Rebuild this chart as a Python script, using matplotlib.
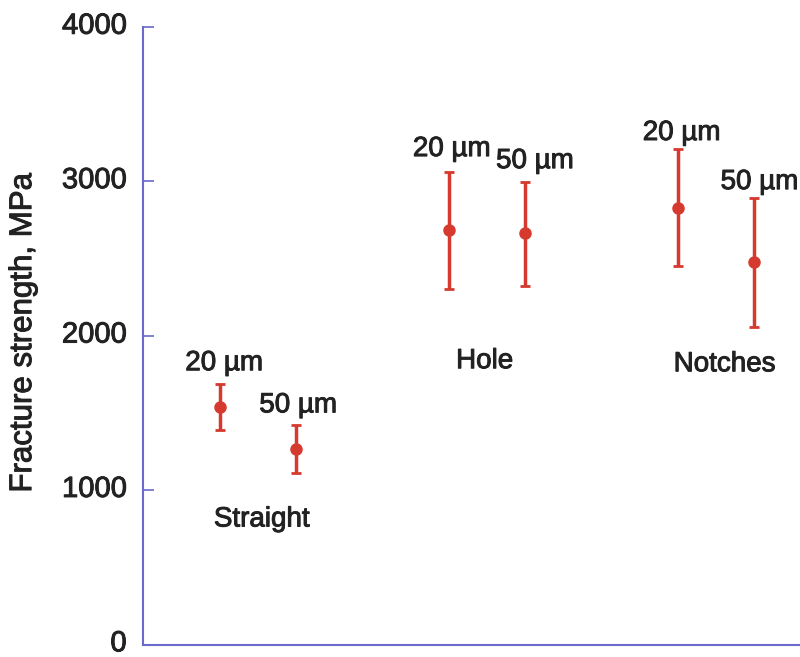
import matplotlib
matplotlib.use('Agg')
from matplotlib import pyplot as plt
from matplotlib import patheffects as pe
from matplotlib import transforms

plt.rcParams['font.family'] = ['Liberation Sans', 'DejaVu Sans']

# data
groups = ['Straight', 'Hole', 'Notches']
widths = ['20 \u00b5m', '50 \u00b5m']
strength = [1540, 1265, 2685, 2665, 2830, 2475]
err_lo = [150, 155, 385, 340, 380, 420]
err_hi = [150, 160, 375, 330, 380, 420]
yticks = [0, 1000, 2000, 3000, 4000]

group_x = [1, 4, 7]
offset = 0.5
xs = [g + d for g in group_x for d in (-offset, offset)]

# label placement (data coords)
width_lab_x = [0.56, 1.53, 3.54, 4.63, 6.55, 7.57]
width_lab_y = [1822, 1549, 3209, 3131, 3313, 2995]
group_lab_x = [1.05, 3.97, 7.11]
group_lab_y = [810, 1835, 1815]

red = '#d63a2f'
blue = '#6a6acc'
thick = [pe.withStroke(linewidth=0.7, foreground='#222222')]

fig = plt.figure(figsize=(8, 6.57), dpi=100)
ax = fig.add_axes([0.179, 0.019, 0.821, 0.94])

ax.errorbar(xs, strength, yerr=[err_lo, err_hi], fmt='o', color=red,
	ms=8, elinewidth=2.5, capsize=3.5, capthick=2)

for i in range(len(xs)):
	ax.text(width_lab_x[i], width_lab_y[i], widths[i % 2], ha='center', va='center',
		fontsize=20, color='#222222', path_effects=thick)

for g, gx, gy in zip(groups, group_lab_x, group_lab_y):
	ax.text(gx, gy, g, ha='center', va='center', fontsize=20, color='#222222', path_effects=thick)

ax.set_xlim(-0.5, 8.1)
ax.set_ylim(0, 4000)
ax.set_yticks(yticks)
ax.set_xticks([])
ax.tick_params(axis='y', direction='in', length=8, width=1.2, color=blue,
	labelsize=21, pad=12, labelcolor='#222222')
shift = transforms.ScaledTranslation(0, 3 / 72, fig.dpi_scale_trans)
for lab in ax.get_yticklabels():
	lab.set_path_effects(thick)
	lab.set_transform(lab.get_transform() + shift)
for s in ('top', 'right'):
	ax.spines[s].set_visible(False)
for s in ('left', 'bottom'):
	ax.spines[s].set_color(blue)
	ax.spines[s].set_linewidth(1.5)

ax.set_ylabel('Fracture strength, MPa', fontsize=22.5, color='#222222', path_effects=thick)
ax.yaxis.set_label_coords(-0.16, 0.505)

fig.savefig('out.png', dpi=100)
